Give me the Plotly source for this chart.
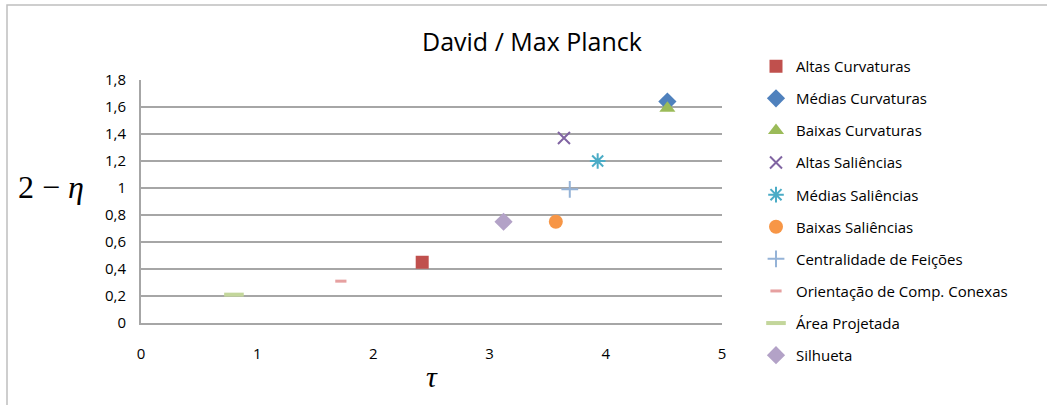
import plotly.graph_objects as go

# Series names, tau (x) and 2 - eta (y) values
series_names = [
    "Altas Curvaturas", "Médias Curvaturas", "Baixas Curvaturas",
    "Altas Saliências", "Médias Saliências", "Baixas Saliências",
    "Centralidade de Feições", "Orientação de Comp. Conexas",
    "Área Projetada", "Silhueta",
]
tau_values = [2.42, 4.53, 4.53, 3.64, 3.93, 3.57, 3.69, 1.72, 0.80, 3.12]
two_minus_eta = [0.45, 1.64, 1.59, 1.37, 1.20, 0.75, 0.99, 0.31, 0.21, 0.75]

x_ticks = [0, 1, 2, 3, 4, 5]
y_ticks = [0, 0.2, 0.4, 0.6, 0.8, 1.0, 1.2, 1.4, 1.6, 1.8]
y_tick_text = ["0", "0,2", "0,4", "0,6", "0,8", "1", "1,2", "1,4", "1,6", "1,8"]

# Marker styling per series
styles = [
    dict(symbol="square", color="#C0504D", size=13, lw=0),
    dict(symbol="diamond", color="#4F81BD", size=14, lw=0),
    dict(symbol="triangle-up", color="#9BBB59", size=14, lw=0),
    dict(symbol="x-thin-open", color="#8064A2", size=12, lw=2),
    dict(symbol="asterisk-open", color="#4BACC6", size=13, lw=2),
    dict(symbol="circle", color="#F79646", size=14, lw=0),
    dict(symbol="cross-thin-open", color="#95B3D7", size=12, lw=2),
    dict(symbol="line-ew-open", color="#E6A0A0", size=8, lw=3),
    dict(symbol="line-ew-open", color="#C3D69B", size=14, lw=4),
    dict(symbol="diamond", color="#B3A2C7", size=14, lw=0),
]

fig = go.Figure()
for i, name in enumerate(series_names):
    st = styles[i]
    fig.add_trace(go.Scatter(
        x=[tau_values[i]], y=[two_minus_eta[i]], name=name, mode="markers",
        legendgroup=f"g{i}",
        marker=dict(symbol=st["symbol"], color=st["color"], size=st["size"],
                    line=dict(color=st["color"], width=st["lw"])),
    ))

W, H = 1047, 405
L, R, T, B = 141, 1047 - 722, 80, 405 - 323
pw, ph = W - L - R, H - T - B

fig.update_layout(
    width=W, height=H,
    margin=dict(l=L, r=R, t=T, b=B),
    paper_bgcolor="white", plot_bgcolor="white",
    font=dict(family="Open Sans, Liberation Sans, sans-serif", color="#000000", size=14),
    title=dict(text="David / Max Planck", font=dict(size=25),
               xref="container", yref="container", x=532 / W, xanchor="center",
               y=1 - 42 / H, yanchor="middle"),
    xaxis=dict(range=[0, 5], tickvals=x_ticks, ticktext=[str(v) for v in x_ticks],
               showgrid=False, zeroline=False, showline=True, linecolor="#A6A6A6",
               linewidth=2, ticks="outside", ticklen=16, tickcolor="rgba(0,0,0,0)",
               tickfont=dict(size=15)),
    yaxis=dict(range=[0, 1.8], tickvals=y_ticks, ticktext=y_tick_text,
               showgrid=True, gridcolor="#A6A6A6", gridwidth=2, zeroline=False,
               showline=True, linecolor="#A6A6A6", linewidth=2,
               ticks="outside", ticklen=10, tickcolor="rgba(0,0,0,0)",
               tickfont=dict(size=15)),
    legend=dict(x=(756 - L) / pw, xanchor="left", y=1 + (T - 50) / ph, yanchor="top",
                font=dict(size=15), tracegroupgap=9.6, traceorder="grouped",
                itemwidth=30, bgcolor="rgba(0,0,0,0)", maxheight=400),
    showlegend=True,
)

# Axis titles
fig.add_annotation(text="2 − <i>η</i>", xref="paper", yref="paper",
                   x=(51 - L) / pw, y=(323 - 187) / ph, showarrow=False,
                   xanchor="center", yanchor="middle",
                   font=dict(family="Liberation Serif, serif", size=32))
fig.add_annotation(text="<i>τ</i>", xref="paper", yref="paper",
                   x=(432 - L) / pw, y=(323 - 376) / ph, showarrow=False,
                   xanchor="center", yanchor="middle",
                   font=dict(family="Liberation Serif, serif", size=30))

# Chart frame
fig.add_shape(type="rect", xref="paper", yref="paper",
              x0=(7 - L) / pw, x1=(1060 - L) / pw,
              y0=(323 - 420) / ph, y1=(323 - 5) / ph,
              line=dict(color="#BFBFBF", width=1.5), layer="below")

fig.write_html("out.html")
